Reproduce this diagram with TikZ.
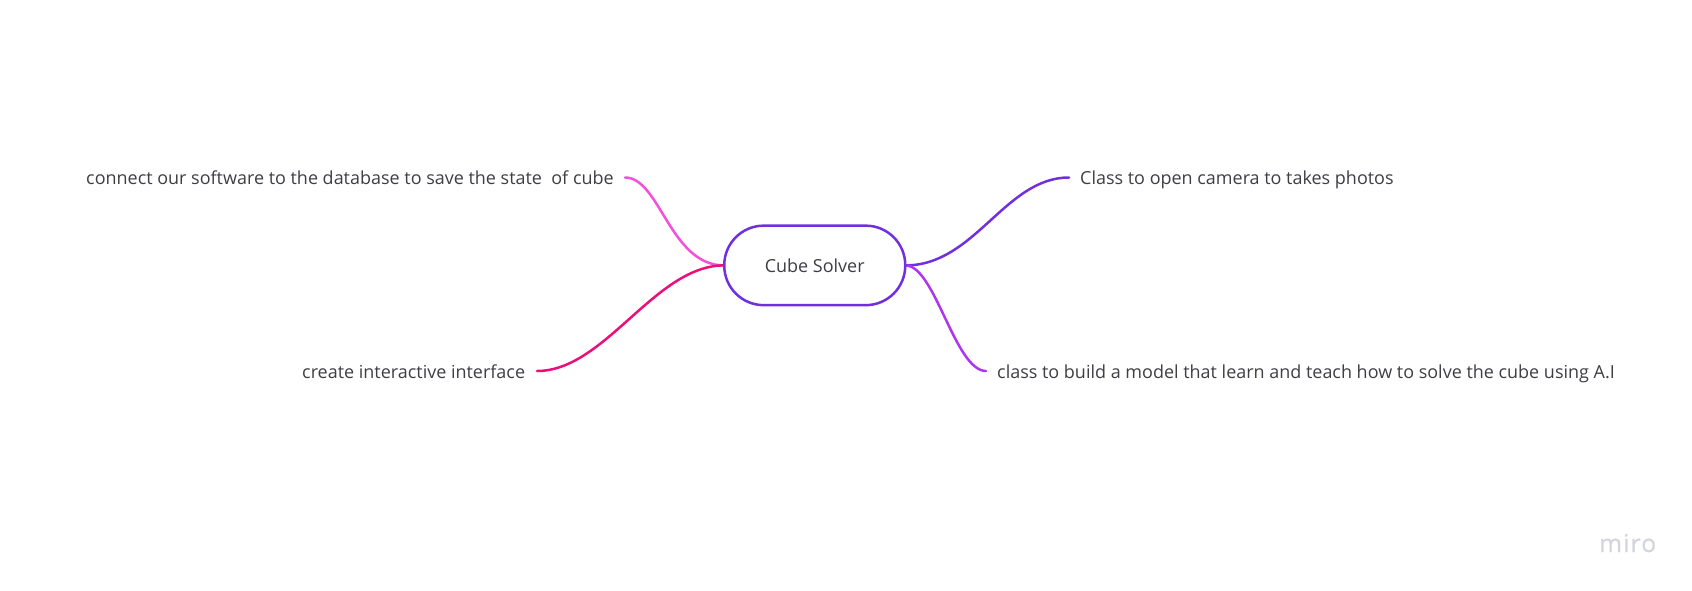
\documentclass[tikz,border=0pt]{standalone}
\usepackage{fontspec}
\setmainfont{Open Sans}[Scale=1]
\newfontfamily\mirofont{Open Sans}[LetterSpace=5,FakeBold=0.5]
\definecolor{violetc}{HTML}{7030E0}
\definecolor{purplec}{HTML}{B035F0}
\definecolor{pinkc}{HTML}{F550DC}
\definecolor{redc}{HTML}{EC0F7A}
\definecolor{textc}{HTML}{3E3E44}
\definecolor{miroc}{HTML}{D3D4DC}
\tikzset{
  x=1pt,y=-1pt,
  label text/.style={font=\fontsize{17.97}{20}\selectfont,text=textc,inner sep=0pt,anchor=base west},
  branch/.style={line width=2.5pt,line cap=round},
  rootbox/.style={draw=violetc,line width=2.5pt,fill=white,rounded corners=39.5pt,minimum width=181pt,minimum height=79.5pt,inner sep=0pt,font=\fontsize{17.97}{20}\selectfont,text=textc},
}
\begin{document}
\begin{tikzpicture}
\useasboundingbox (0,0) rectangle (1692,590);
\coordinate (pe) at (625,177.5);
\coordinate (re) at (537,371);
\coordinate (ve) at (1069,177.5);
\coordinate (pu) at (986,371);
\coordinate (lj) at (724,265.4);
\coordinate (rj) at (905.5,265.4);
\draw[branch,pinkc] (pe) .. controls (660,177.5) and (670,265.4) .. (lj);
\draw[branch,redc] (re) .. controls (605,371) and (655,265.4) .. (lj);
\draw[branch,violetc] (ve) .. controls (1005,177.5) and (975,265.4) .. (rj);
\draw[branch,purplec] (pu) .. controls (955,371) and (935,265.4) .. (rj);
\node[rootbox] (root) at (814.75,265.4) {Cube Solver};
\node[label text] (a) at (86,184) {connect our software to the database to save the state\ \ of cube};
\node[label text] (b) at (302,378) {create interactive interface};
\node[label text] (c) at (1080,184) {Class to open camera to takes photos};
\node[label text] (d) at (997,378) {class to build a model that learn and teach how to solve the cube using A.I};
\node[font=\fontsize{24.5}{25}\selectfont\mirofont,text=miroc,inner sep=0pt,anchor=base west] (m) at (1599,552) {miro};
\end{tikzpicture}
\end{document}
